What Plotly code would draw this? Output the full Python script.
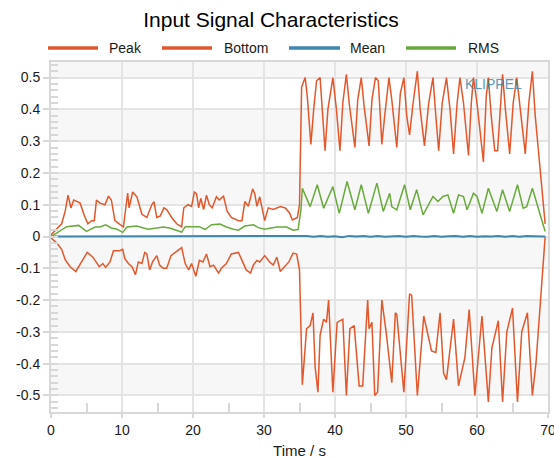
import plotly.graph_objects as go

# ---------------- data ----------------
peak_t = [0, 0.7, 1.5, 2.0, 2.4, 2.8, 3.2, 3.7, 4.1, 4.8, 5.2, 5.7, 6.1, 6.4, 6.9, 7.6, 8.1, 8.5, 9.0, 9.6,
          10.2, 10.8, 11.0, 11.5, 12.1, 12.8, 13.5, 14.2, 14.5, 14.9, 15.4, 15.9, 16.3, 17.0, 17.7, 18.4, 18.7,
          19.3, 19.8, 20.2, 20.5, 20.8, 21.1, 21.5, 21.9, 22.3, 22.7, 23.3, 23.7, 24.3, 24.8, 25.4, 26.4, 26.9,
          27.3, 27.8, 28.4, 28.7, 29.0, 29.4, 30.1, 30.6, 31.3, 32.3, 33.0, 33.6, 34.0, 34.7, 35.0, 35.3, 35.8,
          36.1, 36.6, 37.0, 37.4, 37.9, 38.6, 39.0, 39.7, 40.2, 40.7, 41.1, 41.6, 42.0, 42.8, 43.2, 43.7, 44.1,
          44.8, 45.2, 45.7, 46.1, 46.6, 47.0, 47.6, 48.0, 48.7, 49.2, 49.7, 50.1, 50.5, 51.0, 51.6, 52.0, 52.6,
          53.2, 53.8, 54.2, 54.6, 55.1, 55.7, 56.2, 56.7, 57.2, 57.6, 58.1, 58.8, 59.2, 59.5, 60.0, 60.9, 61.3,
          61.6, 62.0, 62.5, 62.9, 63.6, 64.0, 64.6, 65.1, 65.6, 66.1, 66.8, 67.3, 67.8, 68.2, 69.6]
peak = [0.005, 0.02, 0.04, 0.08, 0.13, 0.09, 0.115, 0.11, 0.105, 0.06, 0.04, 0.05, 0.05, 0.115, 0.105, 0.10,
        0.127, 0.115, 0.05, 0.04, 0.03, 0.137, 0.09, 0.14, 0.125, 0.07, 0.06, 0.10, 0.11, 0.06, 0.065, 0.09,
        0.085, 0.06, 0.04, 0.03, 0.09, 0.10, 0.095, 0.14, 0.135, 0.09, 0.12, 0.085, 0.13, 0.10, 0.09, 0.125,
        0.115, 0.127, 0.08, 0.06, 0.05, 0.05, 0.11, 0.095, 0.15, 0.135, 0.095, 0.125, 0.05, 0.09, 0.085, 0.094,
        0.09, 0.074, 0.052, 0.06, 0.10, 0.47, 0.50, 0.44, 0.29, 0.40, 0.49, 0.50, 0.27, 0.40, 0.50, 0.40, 0.27,
        0.42, 0.51, 0.42, 0.28, 0.43, 0.50, 0.41, 0.285, 0.43, 0.50, 0.49, 0.29, 0.38, 0.50, 0.43, 0.28, 0.45,
        0.50, 0.38, 0.32, 0.42, 0.52, 0.40, 0.285, 0.42, 0.50, 0.38, 0.27, 0.42, 0.50, 0.40, 0.26, 0.42, 0.50,
        0.42, 0.255, 0.42, 0.50, 0.42, 0.235, 0.44, 0.50, 0.38, 0.27, 0.27, 0.51, 0.40, 0.26, 0.42, 0.50, 0.40,
        0.26, 0.42, 0.52, 0.38, 0.04]

bottom_t = [0, 0.8, 1.5, 2.0, 2.7, 3.5, 4.3, 5.1, 5.9, 6.8, 7.3, 7.7, 8.3, 8.8, 9.6, 10.1, 10.4, 10.9, 11.4,
            11.9, 12.3, 12.8, 13.2, 13.5, 13.9, 14.3, 14.9, 15.3, 15.8, 16.3, 16.9, 17.8, 18.4, 18.9, 19.4,
            19.8, 20.4, 20.9, 21.4, 21.9, 22.4, 22.9, 23.6, 24.0, 24.7, 25.4, 26.4, 26.9, 27.5, 28.1, 28.5,
            29.0, 29.4, 30.1, 30.8, 31.3, 31.8, 32.3, 33.2, 33.5, 34.1, 34.6, 35.0, 35.4, 36.0, 36.5, 36.9,
            37.2, 37.6, 37.9, 38.4, 38.8, 39.1, 39.7, 40.3, 41.1, 41.6, 42.1, 42.7, 43.4, 43.9, 44.6, 44.8,
            45.2, 45.6, 46.0, 46.6, 47.2, 48.0, 48.5, 48.7, 49.7, 50.5, 50.8, 51.6, 52.5, 53.6, 54.2, 54.8,
            55.3, 55.7, 56.7, 57.4, 58.3, 58.9, 59.7, 60.7, 61.6, 62.1, 63.0, 63.6, 64.2, 65.0, 65.7, 66.3,
            67.1, 67.8, 68.3, 69.6]
bottom = [-0.005, -0.02, -0.04, -0.073, -0.095, -0.11, -0.08, -0.05, -0.065, -0.095, -0.085, -0.097, -0.08,
          -0.045, -0.045, -0.04, -0.07, -0.085, -0.095, -0.12, -0.08, -0.085, -0.05, -0.055, -0.105, -0.08,
          -0.06, -0.09, -0.10, -0.10, -0.06, -0.045, -0.035, -0.085, -0.105, -0.085, -0.125, -0.075, -0.08,
          -0.055, -0.095, -0.09, -0.115, -0.10, -0.085, -0.055, -0.05, -0.075, -0.105, -0.115, -0.09, -0.075,
          -0.08, -0.06, -0.08, -0.09, -0.065, -0.11, -0.085, -0.08, -0.052, -0.055, -0.105, -0.466, -0.29,
          -0.28, -0.24, -0.41, -0.49, -0.31, -0.26, -0.27, -0.20, -0.49, -0.27, -0.26, -0.50, -0.29, -0.28,
          -0.47, -0.47, -0.20, -0.29, -0.27, -0.50, -0.49, -0.20, -0.30, -0.46, -0.24, -0.245, -0.49, -0.18,
          -0.185, -0.50, -0.25, -0.36, -0.365, -0.24, -0.43, -0.45, -0.26, -0.47, -0.38, -0.23, -0.50, -0.25,
          -0.52, -0.35, -0.265, -0.52, -0.30, -0.225, -0.52, -0.30, -0.24, -0.50, -0.40, 0.0]

rms_t = [0, 1.7, 2.2, 3.9, 5.0, 6.2, 6.9, 7.7, 8.5, 9.3, 10.1, 10.7, 12.1, 13.0, 13.7, 14.9, 15.8, 16.7,
         17.7, 18.4, 18.9, 19.8, 20.9, 21.7, 22.6, 23.8, 24.7, 25.7, 26.4, 27.3, 28.5, 29.2, 30.1, 30.8, 31.8,
         33.2, 34.1, 34.8, 35.2, 35.4, 36.5, 37.5, 38.4, 39.7, 40.6, 41.7, 42.8, 43.7, 44.7, 45.9, 46.8, 47.7,
         48.0, 48.7, 49.8, 50.6, 51.5, 52.4, 53.8, 54.5, 55.2, 55.9, 56.7, 57.4, 58.1, 58.6, 59.5, 60.0, 60.7,
         61.6, 62.8, 63.6, 64.6, 65.7, 66.5, 67.0, 67.8, 69.6]
rms = [0.0, 0.023, 0.031, 0.035, 0.016, 0.03, 0.03, 0.037, 0.027, 0.023, 0.013, 0.03, 0.033, 0.027, 0.023,
       0.027, 0.03, 0.027, 0.02, 0.014, 0.031, 0.032, 0.031, 0.022, 0.037, 0.039, 0.03, 0.023, 0.02, 0.033,
       0.037, 0.028, 0.023, 0.026, 0.03, 0.03, 0.02, 0.022, 0.084, 0.152, 0.094, 0.163, 0.089, 0.157, 0.073,
       0.173, 0.084, 0.163, 0.073, 0.168, 0.079, 0.136, 0.094, 0.084, 0.163, 0.084, 0.147, 0.068, 0.126,
       0.110, 0.126, 0.131, 0.073, 0.131, 0.126, 0.084, 0.136, 0.126, 0.073, 0.152, 0.079, 0.147, 0.079,
       0.163, 0.089, 0.094, 0.152, 0.016]

mean_t = [0, 35.0, 36.0, 37.0, 38.0, 39.0, 40.0, 41.0, 42.0, 43.0, 44.0, 45.0, 46.0, 47.0, 48.0, 49.0, 50.0,
          51.0, 52.0, 53.0, 54.0, 55.0, 56.0, 57.0, 58.0, 59.0, 60.0, 61.0, 62.0, 63.0, 64.0, 65.0, 66.0,
          67.0, 68.0, 69.6]
mean = [0.0, 0.0, 0.002, -0.001, 0.002, -0.001, 0.001, -0.002, 0.002, 0.0, 0.002, -0.001, 0.002, -0.001,
        0.001, 0.002, -0.001, 0.002, 0.0, -0.001, 0.002, -0.001, 0.001, 0.002, -0.001, 0.002, -0.001, 0.001,
        0.0, 0.002, -0.001, 0.002, -0.001, 0.002, 0.001, 0.0]

series_names = ["Peak", "Bottom", "Mean", "RMS"]
y_tickvals = [0.5, 0.4, 0.3, 0.2, 0.1, 0, -0.1, -0.2, -0.3, -0.4, -0.5]
y_ticktext = ["0.5", "0.4", "0.3", "0.2", "0.1", "0", "-0.1", "-0.2", "-0.3", "-0.4", "-0.5"]
x_tickvals = [0, 10, 20, 30, 40, 50, 60, 70]
x_ticktext = ["0", "10", "20", "30", "40", "50", "60", "70"]

# ---------------- style ----------------
ORANGE = "#E2582C"
BLUE = "#3F86B0"
GREEN = "#69AA3C"
colors = [ORANGE, ORANGE, BLUE, GREEN]
W, H = 554, 459
L, R, T, B = 51, 548, 62, 412

fig = go.Figure()
fig.add_trace(go.Scatter(x=peak_t, y=peak, mode="lines", name=series_names[0],
                         line=dict(color=ORANGE, width=1.5)))
fig.add_trace(go.Scatter(x=bottom_t, y=bottom, mode="lines", name=series_names[1],
                         line=dict(color=ORANGE, width=1.5)))
fig.add_trace(go.Scatter(x=mean_t, y=mean, mode="lines", name=series_names[2],
                         line=dict(color=BLUE, width=2)))
fig.add_trace(go.Scatter(x=rms_t, y=rms, mode="lines", name=series_names[3],
                         line=dict(color=GREEN, width=1.5)))

shapes = []
# alternating bands
for y0, y1 in [(-0.5, -0.4), (-0.3, -0.2), (-0.1, 0.0), (0.1, 0.2), (0.3, 0.4), (0.5, 0.56)]:
    shapes.append(dict(type="rect", xref="paper", yref="y", x0=0, x1=1, y0=y0, y1=y1,
                       fillcolor="#f7f7f7", line=dict(width=0), layer="below"))

def px_x(p):
    return (p - L) / (R - L)

def px_y(p):
    return (B - p) / (B - T)

annotations = []
legend_pos = [(48, 98, 107), (162, 212, 222), (289, 340, 348), (406, 456, 466)]
ly = px_y(48)
for (a, b, tx), name, c in zip(legend_pos, series_names, colors):
    shapes.append(dict(type="line", xref="paper", yref="paper", x0=px_x(a), x1=px_x(b), y0=ly, y1=ly,
                       line=dict(color=c, width=3.5)))
    annotations.append(dict(text=name, xref="paper", yref="paper", x=px_x(tx), y=ly, xanchor="left",
                            yanchor="middle", showarrow=False, font=dict(size=14, color="#1a1a1a")))

annotations.append(dict(text="KLIPPEL", xref="paper", yref="paper", x=px_x(463), y=px_y(84),
                        xanchor="left", yanchor="middle", showarrow=False,
                        font=dict(size=14, color="#3f88ae"), opacity=0.85))

axis_common = dict(showgrid=True, gridcolor="#e4e4e4", gridwidth=2, showline=True, linecolor="#d8d8d8",
                   linewidth=2, mirror=True, zeroline=False, tickcolor="#d8d8d8", tickwidth=2,
                   automargin=False, ticklabeloverflow="allow",
                   tickfont=dict(size=14, color="#1a1a1a"))

fig.update_layout(
    width=W, height=H,
    margin=dict(l=L, r=W - R, t=T, b=H - B),
    plot_bgcolor="white", paper_bgcolor="white",
    font=dict(family="Liberation Sans, Arial, sans-serif", size=14, color="#1a1a1a"),
    showlegend=False,
    title=dict(text="Input Signal Characteristics", x=271 / W, xanchor="center",
               y=1 - 20 / H, yanchor="middle", font=dict(size=21, color="black")),
    shapes=shapes, annotations=annotations,
    xaxis=dict(range=[0, 70], tickvals=x_tickvals, ticktext=x_ticktext, ticks="outside", ticklen=4,
               minor=dict(tickvals=[5, 15, 25, 35, 45, 55, 65], ticks="inside", ticklen=9,
                          tickcolor="#d8d8d8", tickwidth=2, showgrid=False),
               title=dict(text="Time / s", font=dict(size=15, color="#1a1a1a"), standoff=9),
               **axis_common),
    yaxis=dict(range=[-0.552, 0.549], tickvals=y_tickvals, ticktext=y_ticktext, ticks="outside",
               ticklen=6, minor=dict(dtick=0.02, tick0=0, ticks="inside", ticklen=7,
                                     tickcolor="#d8d8d8", tickwidth=2, showgrid=False),
               **axis_common),
)

fig.write_html("out.html")
